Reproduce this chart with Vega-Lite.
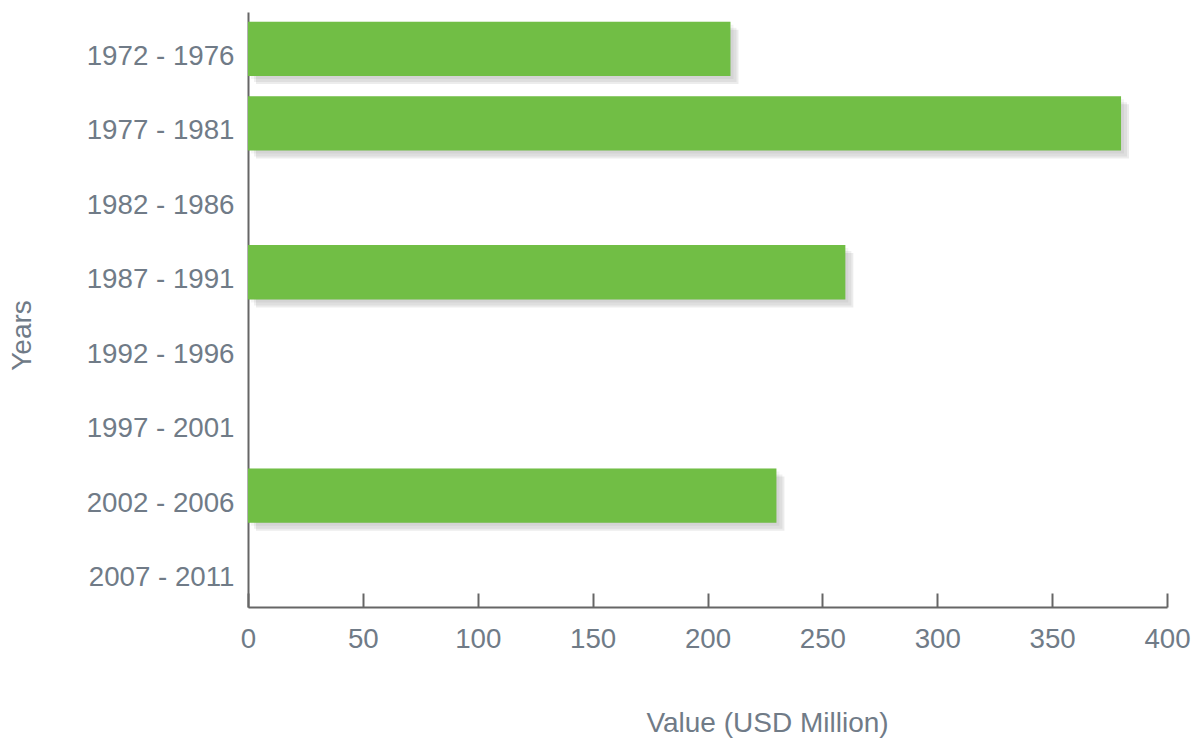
{
  "$schema": "https://vega.github.io/schema/vega-lite/v6.json",
  "width": 919,
  "height": 595,
  "autosize": "none",
  "padding": {"left": 248, "top": 12, "right": 28, "bottom": 133},
  "background": "white",
  "config": {
    "view": {"stroke": null},
    "font": "Liberation Sans"
  },
  "data": {
    "values": [
      {"period": "1972 - 1976", "value": 210},
      {"period": "1977 - 1981", "value": 380},
      {"period": "1982 - 1986", "value": null},
      {"period": "1987 - 1991", "value": 260},
      {"period": "1992 - 1996", "value": null},
      {"period": "1997 - 2001", "value": null},
      {"period": "2002 - 2006", "value": 230},
      {"period": "2007 - 2011", "value": null}
    ]
  },
  "encoding": {
    "y": {
      "field": "period",
      "type": "nominal",
      "sort": null,
      "scale": {
        "domain": ["1972 - 1976", "1977 - 1981", "1982 - 1986", "1987 - 1991", "1992 - 1996", "1997 - 2001", "2002 - 2006", "2007 - 2011"],
        "paddingInner": 0.27,
        "paddingOuter": 0.13
      },
      "axis": {
        "title": "Years",
        "titleFont": "Liberation Sans",
        "titleFontSize": 28,
        "titleFontWeight": "normal",
        "titleColor": "#707b87",
        "titleAngle": -90,
        "titleX": -226,
        "titleY": 323,
        "titleAlign": "center",
        "titleBaseline": "middle",
        "labelFont": "Liberation Sans",
        "labelFontSize": 27.7,
        "labelColor": "#707b87",
        "labelPadding": 14,
        "labelOffset": 8,
        "ticks": false,
        "domainColor": "#666666",
        "domainWidth": 2,
        "grid": false
      }
    },
    "x": {
      "field": "value",
      "type": "quantitative",
      "scale": {"domain": [0, 400], "nice": false},
      "axis": {
        "title": "Value (USD Million)",
        "titleFont": "Liberation Sans",
        "titleFontSize": 28,
        "titleFontWeight": "normal",
        "titleColor": "#707b87",
        "titleX": 519,
        "titleY": 116,
        "titleAlign": "center",
        "titleBaseline": "middle",
        "values": [0, 50, 100, 150, 200, 250, 300, 350, 400],
        "labelFont": "Liberation Sans",
        "labelFontSize": 27.7,
        "labelColor": "#707b87",
        "labelPadding": 32,
        "labelFlush": false,
        "tickSize": -14,
        "tickColor": "#666666",
        "tickWidth": 2,
        "domainColor": "#666666",
        "domainWidth": 2,
        "grid": false
      }
    }
  },
  "layer": [
    {"mark": {"type": "bar", "color": "#000000", "opacity": 0.03, "xOffset": 0, "x2Offset": 24, "yOffset": 0, "y2Offset": 21}},
    {"mark": {"type": "bar", "color": "#000000", "opacity": 0.045, "xOffset": 3, "x2Offset": 21, "yOffset": 3, "y2Offset": 18}},
    {"mark": {"type": "bar", "color": "#000000", "opacity": 0.06, "xOffset": 6, "x2Offset": 18, "yOffset": 6, "y2Offset": 15}},
    {"mark": {"type": "bar", "color": "#000000", "opacity": 0.075, "xOffset": 8, "x2Offset": 15, "yOffset": 8, "y2Offset": 12}},
    {"mark": {"type": "bar", "color": "#71be45"}}
  ]
}
